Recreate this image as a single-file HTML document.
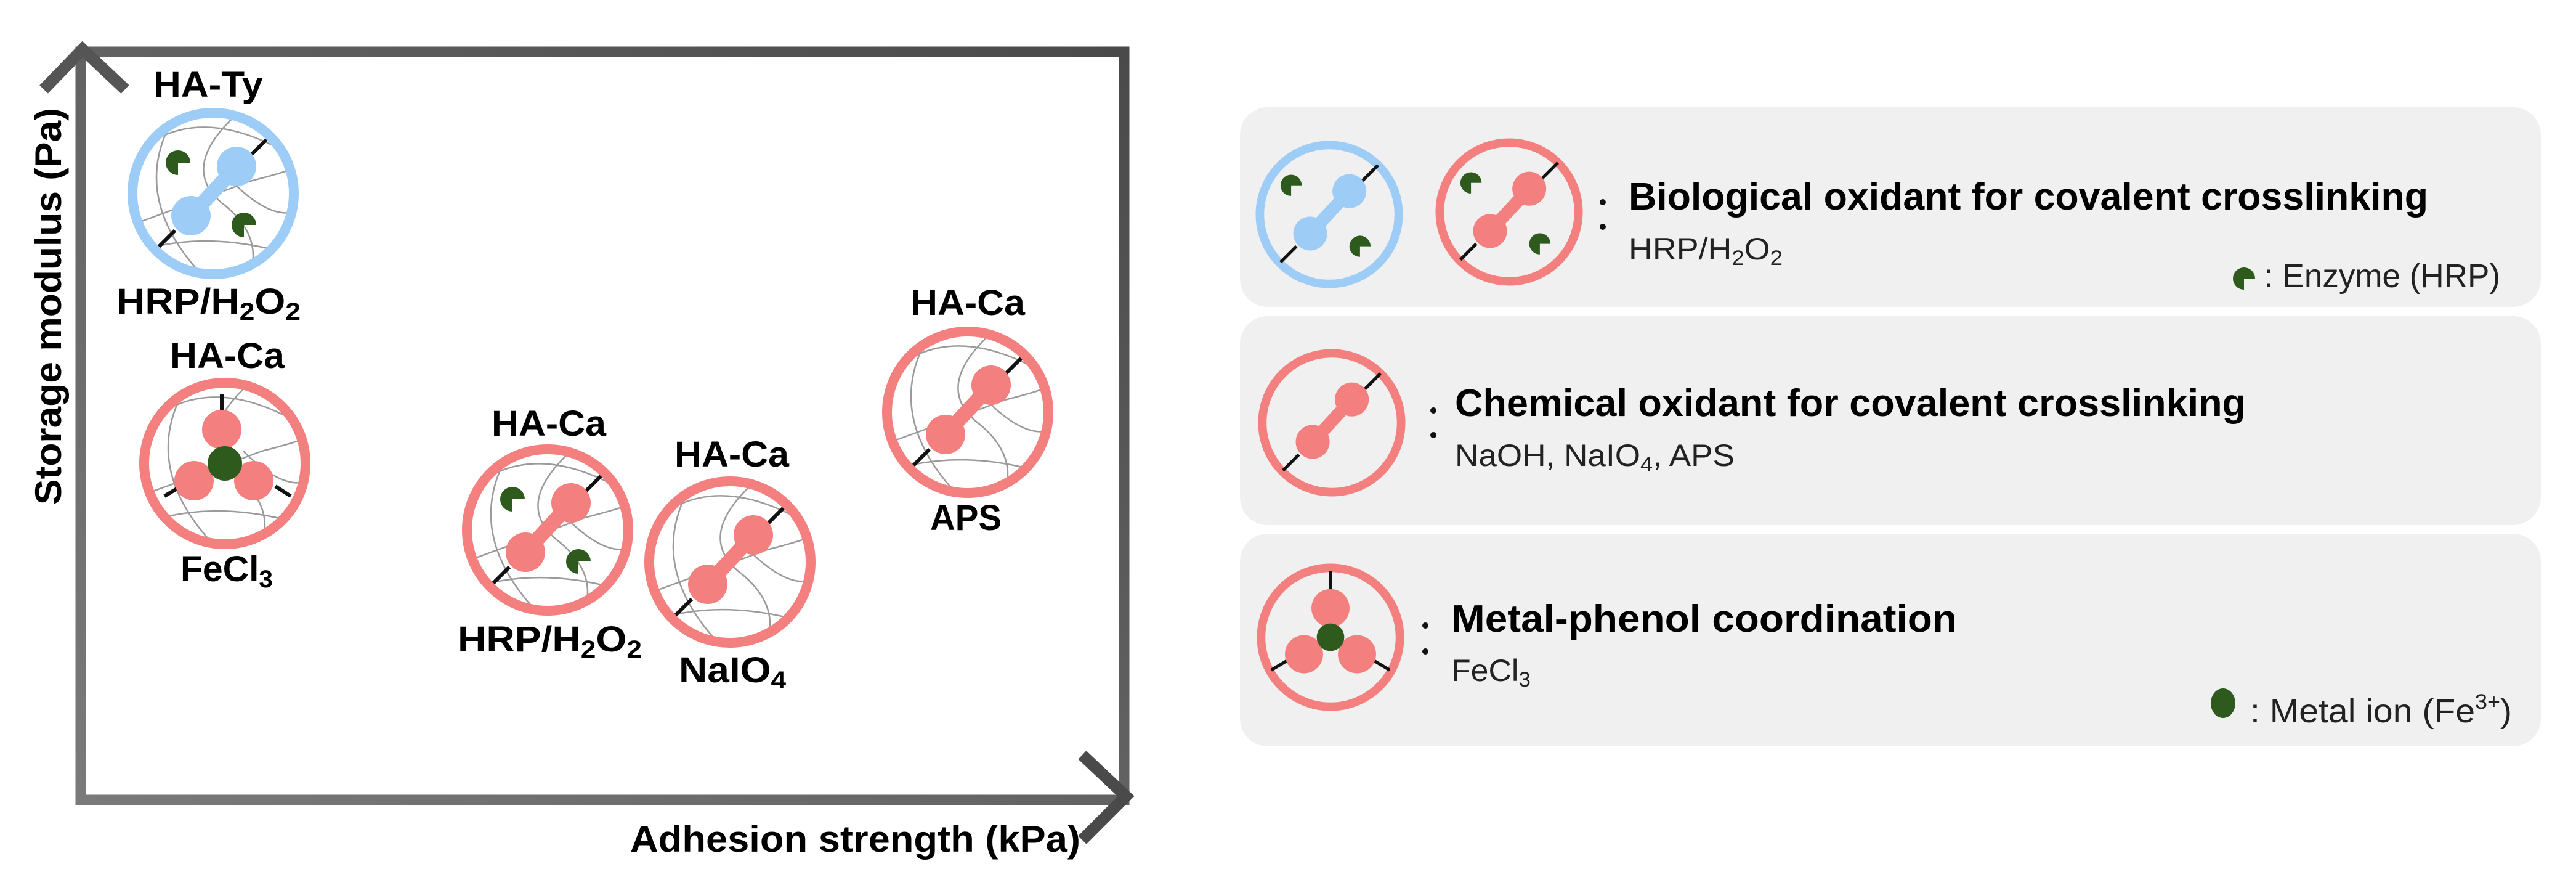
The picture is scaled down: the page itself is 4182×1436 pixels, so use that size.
<!DOCTYPE html>
<html><head><meta charset="utf-8">
<style>
html,body{margin:0;padding:0;background:#fff;}
svg{display:block;}
text{font-family:"Liberation Sans",sans-serif;}
.b{font-weight:bold;}
</style></head>
<body>
<svg width="4182" height="1436" viewBox="0 0 4182 1436" xmlns="http://www.w3.org/2000/svg">
<defs>
  <clipPath id="cin"><circle cx="0" cy="0" r="124"/></clipPath>
  <g id="net" clip-path="url(#cin)" fill="none" stroke="#9a9a9a" stroke-width="2.5">
    <path d="M-120 -70 Q-20 -150 130 -60"/>
    <path d="M-60 -130 Q-140 0 -20 130"/>
    <path d="M40 -130 Q-60 -40 20 20 Q80 70 60 130"/>
    <path d="M-130 50 Q-20 10 60 -20 Q100 -30 130 -40"/>
    <path d="M-110 90 Q0 60 130 100"/>
    <path d="M30 -20 Q90 40 130 30"/>
  </g>
  <g id="pac"><path d="M0 0 L20 0 A20 20 0 1 0 0 20 Z" fill="#2e5a1d"/></g>
  <g id="dumbR">
    <circle r="131" fill="#fff"/>
    <use href="#net"/>
    <line x1="62" y1="-63" x2="88" y2="-89" stroke="#111" stroke-width="6"/>
    <line x1="-62" y1="60" x2="-88" y2="86" stroke="#111" stroke-width="6"/>
    <line x1="-36" y1="36" x2="38" y2="-44" stroke="#f47f7f" stroke-width="24"/>
    <circle cx="-36" cy="36" r="32" fill="#f47f7f"/>
    <circle cx="38" cy="-44" r="32" fill="#f47f7f"/>
    <circle r="131" fill="none" stroke="#f47f7f" stroke-width="16"/>
  </g>
  <g id="dumbB">
    <circle r="131" fill="#fff"/>
    <use href="#net"/>
    <line x1="62" y1="-63" x2="88" y2="-89" stroke="#111" stroke-width="6"/>
    <line x1="-62" y1="60" x2="-88" y2="86" stroke="#111" stroke-width="6"/>
    <line x1="-36" y1="36" x2="38" y2="-44" stroke="#9dcdf6" stroke-width="24"/>
    <circle cx="-36" cy="36" r="32" fill="#9dcdf6"/>
    <circle cx="38" cy="-44" r="32" fill="#9dcdf6"/>
    <circle r="131" fill="none" stroke="#9dcdf6" stroke-width="16"/>
  </g>
  <g id="fe">
    <circle r="131" fill="#fff"/>
    <use href="#net"/>
    <line x1="-5" y1="-113" x2="-5" y2="-83" stroke="#111" stroke-width="6"/>
    <line x1="-98" y1="53" x2="-73" y2="38" stroke="#111" stroke-width="6"/>
    <line x1="82" y1="37" x2="107" y2="53" stroke="#111" stroke-width="6"/>
    <circle cx="-5" cy="-55" r="32" fill="#f47f7f"/>
    <circle cx="-50" cy="28" r="32" fill="#f47f7f"/>
    <circle cx="47" cy="28" r="32" fill="#f47f7f"/>
    <circle cx="0" cy="0" r="28" fill="#2e5a1d"/>
    <circle r="131" fill="none" stroke="#f47f7f" stroke-width="16"/>
  </g>
  <linearGradient id="ax" x1="0" y1="1" x2="1" y2="0">
    <stop offset="0" stop-color="#7a7a7a"/><stop offset="1" stop-color="#4a4a4a"/>
  </linearGradient>
</defs>

<path d="M131 1298 L131 84 L1825 84 L1825 1298 Z" fill="none" stroke="url(#ax)" stroke-width="17"/>
<polyline points="71,145 134,80 203,145" fill="none" stroke="#555" stroke-width="19"/>
<polyline points="1757,1225 1828,1292 1757,1363" fill="none" stroke="#4a4a4a" stroke-width="19"/>

<text class="b" x="0" y="0" font-size="60" text-anchor="middle" textLength="644" lengthAdjust="spacingAndGlyphs" transform="translate(99,497) rotate(-90)">Storage modulus (Pa)</text>
<text class="b" x="1023" y="1382" font-size="60" textLength="731" lengthAdjust="spacingAndGlyphs">Adhesion strength (kPa)</text>

<text class="b" x="249" y="157" font-size="58" textLength="178" lengthAdjust="spacingAndGlyphs">HA-Ty</text>
<g transform="translate(346,314)"><use href="#dumbB"/><use href="#pac" transform="translate(-57,-50)"/><use href="#pac" transform="translate(50,51)"/></g>
<text class="b" x="189" y="509" font-size="58" textLength="299" lengthAdjust="spacingAndGlyphs">HRP/H<tspan font-size="40" dy="10">2</tspan><tspan dy="-10">O</tspan><tspan font-size="40" dy="10">2</tspan></text>

<text class="b" x="369" y="597" font-size="58" text-anchor="middle" textLength="186" lengthAdjust="spacingAndGlyphs">HA-Ca</text>
<g transform="translate(365,752)"><use href="#fe"/></g>
<text class="b" x="293" y="943" font-size="58" textLength="150" lengthAdjust="spacingAndGlyphs">FeCl<tspan font-size="40" dy="10">3</tspan></text>

<text class="b" x="891" y="707" font-size="58" text-anchor="middle" textLength="186" lengthAdjust="spacingAndGlyphs">HA-Ca</text>
<g transform="translate(889,860)"><use href="#dumbR"/><use href="#pac" transform="translate(-57,-50)"/><use href="#pac" transform="translate(50,51)"/></g>
<text class="b" x="743" y="1057" font-size="58" textLength="299" lengthAdjust="spacingAndGlyphs">HRP/H<tspan font-size="40" dy="10">2</tspan><tspan dy="-10">O</tspan><tspan font-size="40" dy="10">2</tspan></text>

<text class="b" x="1188" y="757" font-size="58" text-anchor="middle" textLength="186" lengthAdjust="spacingAndGlyphs">HA-Ca</text>
<g transform="translate(1185,912)"><use href="#dumbR"/></g>
<text class="b" x="1102" y="1107" font-size="58" textLength="174" lengthAdjust="spacingAndGlyphs">NaIO<tspan font-size="40" dy="10">4</tspan></text>

<text class="b" x="1571" y="511" font-size="58" text-anchor="middle" textLength="186" lengthAdjust="spacingAndGlyphs">HA-Ca</text>
<g transform="translate(1571,669)"><use href="#dumbR"/></g>
<text class="b" x="1510" y="860" font-size="58" textLength="116" lengthAdjust="spacingAndGlyphs">APS</text>

<rect x="2013" y="174" width="2112" height="324" rx="45" fill="#f0f0f0"/>
<rect x="2013" y="513" width="2112" height="339" rx="45" fill="#f0f0f0"/>
<rect x="2013" y="866" width="2112" height="345" rx="45" fill="#f0f0f0"/>

<g transform="translate(2158,348) scale(0.86)">
  <circle r="131" fill="none" stroke="#9dcdf6" stroke-width="16"/>
  <line x1="62" y1="-63" x2="92" y2="-93" stroke="#111" stroke-width="6"/>
  <line x1="-62" y1="60" x2="-92" y2="90" stroke="#111" stroke-width="6"/>
  <line x1="-36" y1="36" x2="38" y2="-44" stroke="#9dcdf6" stroke-width="24"/>
  <circle cx="-36" cy="36" r="32" fill="#9dcdf6"/><circle cx="38" cy="-44" r="32" fill="#9dcdf6"/>
  <use href="#pac" transform="translate(-72,-55)"/><use href="#pac" transform="translate(58,60)"/>
</g>
<g transform="translate(2450,344) scale(0.86)">
  <circle r="131" fill="none" stroke="#f47f7f" stroke-width="16"/>
  <line x1="62" y1="-63" x2="92" y2="-93" stroke="#111" stroke-width="6"/>
  <line x1="-62" y1="60" x2="-92" y2="90" stroke="#111" stroke-width="6"/>
  <line x1="-36" y1="36" x2="38" y2="-44" stroke="#f47f7f" stroke-width="24"/>
  <circle cx="-36" cy="36" r="32" fill="#f47f7f"/><circle cx="38" cy="-44" r="32" fill="#f47f7f"/>
  <use href="#pac" transform="translate(-72,-55)"/><use href="#pac" transform="translate(58,60)"/>
</g>
<circle cx="2602" cy="328" r="5" fill="#111"/><circle cx="2602" cy="368" r="5" fill="#111"/>
<text class="b" x="2644" y="340" font-size="62" textLength="1298" lengthAdjust="spacingAndGlyphs">Biological oxidant for covalent crosslinking</text>
<text x="2644" y="421" font-size="50" fill="#222" textLength="250" lengthAdjust="spacingAndGlyphs">HRP/H<tspan font-size="34" dy="9">2</tspan><tspan dy="-9">O</tspan><tspan font-size="34" dy="9">2</tspan></text>
<use href="#pac" transform="translate(3643,452) scale(0.9)"/>
<text x="3676" y="466" font-size="54" fill="#222" textLength="383" lengthAdjust="spacingAndGlyphs">: Enzyme (HRP)</text>

<g transform="translate(2162,686) scale(0.86)">
  <circle r="131" fill="none" stroke="#f47f7f" stroke-width="16"/>
  <line x1="62" y1="-63" x2="92" y2="-93" stroke="#111" stroke-width="6"/>
  <line x1="-62" y1="60" x2="-92" y2="90" stroke="#111" stroke-width="6"/>
  <line x1="-36" y1="36" x2="38" y2="-44" stroke="#f47f7f" stroke-width="24"/>
  <circle cx="-36" cy="36" r="32" fill="#f47f7f"/><circle cx="38" cy="-44" r="32" fill="#f47f7f"/>
</g>
<circle cx="2327" cy="666" r="5" fill="#111"/><circle cx="2327" cy="706" r="5" fill="#111"/>
<text class="b" x="2362" y="675" font-size="62" textLength="1284" lengthAdjust="spacingAndGlyphs">Chemical oxidant for covalent crosslinking</text>
<text x="2362" y="756" font-size="50" fill="#222" textLength="454" lengthAdjust="spacingAndGlyphs">NaOH, NaIO<tspan font-size="34" dy="9">4</tspan><tspan dy="-9">, APS</tspan></text>

<g transform="translate(2160,1034) scale(0.86)">
  <circle r="131" fill="none" stroke="#f47f7f" stroke-width="16"/>
  <line x1="0" y1="-125" x2="0" y2="-83" stroke="#111" stroke-width="6"/>
  <line x1="-112" y1="62" x2="-75" y2="40" stroke="#111" stroke-width="6"/>
  <line x1="112" y1="62" x2="75" y2="40" stroke="#111" stroke-width="6"/>
  <circle cx="0" cy="-55" r="36" fill="#f47f7f"/>
  <circle cx="-50" cy="32" r="36" fill="#f47f7f"/>
  <circle cx="50" cy="32" r="36" fill="#f47f7f"/>
  <circle cx="0" cy="0" r="26" fill="#2e5a1d"/>
</g>
<circle cx="2314" cy="1015" r="5" fill="#111"/><circle cx="2314" cy="1057" r="5" fill="#111"/>
<text class="b" x="2356" y="1025" font-size="62" textLength="821" lengthAdjust="spacingAndGlyphs">Metal-phenol coordination</text>
<text x="2356" y="1105" font-size="50" fill="#222" textLength="129" lengthAdjust="spacingAndGlyphs">FeCl<tspan font-size="34" dy="9">3</tspan></text>
<ellipse cx="3609" cy="1141" rx="20" ry="24" fill="#2e5a1d"/>
<text x="3653" y="1172" font-size="54" fill="#222" textLength="425" lengthAdjust="spacingAndGlyphs">: Metal ion (Fe<tspan font-size="34" dy="-22">3+</tspan><tspan dy="22">)</tspan></text>
</svg>
</body></html>
